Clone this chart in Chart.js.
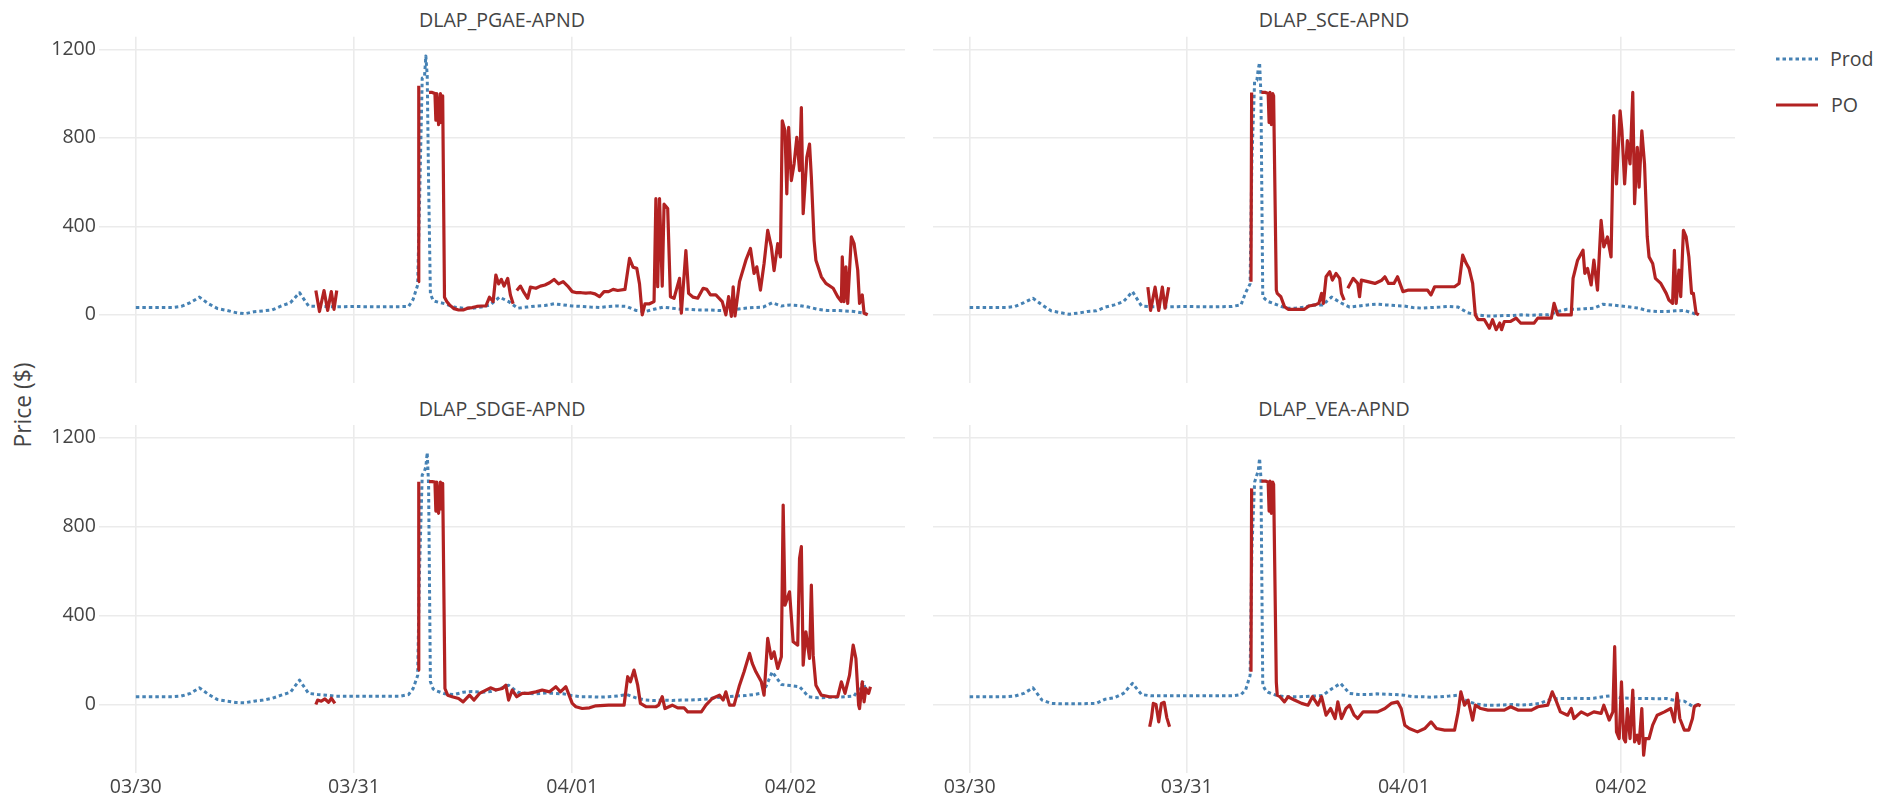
<!DOCTYPE html>
<html>
<head>
<meta charset="utf-8">
<script src="https://cdn.jsdelivr.net/npm/chart.js@4.4.1/dist/chart.umd.min.js"></script>
<style>
  body { margin: 0; width: 1883px; height: 799px; overflow: hidden; position: relative; background: #fff;
         font-family: 'Open Sans', sans-serif; color: #444; }
  canvas { position: absolute; }
  .label { position: absolute; font-size: 19.6px; line-height: 24px; white-space: nowrap; }
  .title { transform: translateX(-50%); }
  #yTitle { position: absolute; left: 22px; top: 405px; font-size: 22.8px; white-space: nowrap;
            transform: translate(-50%, -50%) rotate(-90deg); }
  #legend { position: absolute; left: 0; top: 0; }
</style>
</head>
<body>

<div class="label title" style="left:502px; top:8px">DLAP_PGAE-APND</div>
<div class="label title" style="left:1334px; top:8px">DLAP_SCE-APND</div>
<div class="label title" style="left:502px; top:397px">DLAP_SDGE-APND</div>
<div class="label title" style="left:1334px; top:397px">DLAP_VEA-APND</div>
<div id="yTitle">Price ($)</div>

<svg id="legend" width="1883" height="140">
  <line x1="1776" y1="59" x2="1818" y2="59" stroke="#4682b4" stroke-width="3" stroke-dasharray="3.5,3" />
  <line x1="1776" y1="105" x2="1818" y2="105" stroke="#b22222" stroke-width="3" />
</svg>
<div class="label" style="left:1830px; top:47px">Prod</div>
<div class="label" style="left:1831px; top:93px">PO</div>

<canvas id="pgae" width="910" height="360" style="left:0px; top:30px"></canvas>
<canvas id="sce" width="825" height="360" style="left:915px; top:30px"></canvas>
<canvas id="sdge" width="910" height="381" style="left:0px; top:418px"></canvas>
<canvas id="vea" width="825" height="381" style="left:915px; top:418px"></canvas>

<script>
// --- AXES ---
// x is hours since 03/30 00:00
const dayHours = [0, 24, 48, 72];
const dayLabels = ["03/30", "03/31", "04/01", "04/02"];
const priceTicks = [0, 400, 800, 1200];

// --- PROD (hourly, denser around the 03/31 spike) ---
const prodHours = [0,1,2,3,4,5,6,7,8,9,10,11,12,13,14,15,16,17,18,19,20,21,22,23,24,25,26,27,28,29,30,
  30.5,31,31.2,31.5,31.75,31.9,32.05,32.2,32.4,32.7,
  33,34,35,36,37,38,39,40,41,42,43,44,45,46,47,48,49,50,51,52,53,54,55,56,57,58,59,60,61,62,
  63,64,65,66,67,68,69,70,71,72,73,74,75,76,77,78,79,80,80.4];

const pgaeProd = [33,33,33,33,33,38,55,80,50,28,20,10,5,14,18,22,40,55,100,40,38,37,36,37,38,37,37,36,37,37,38,
  70,135,500,1070,1075,1170,1080,600,95,65,
  60,50,35,30,30,35,45,80,60,30,35,40,42,50,45,40,38,35,33,38,40,38,20,15,25,35,30,25,25,22,
  22,20,20,25,30,33,35,55,40,45,42,35,25,20,20,18,15,8,3];
const sceProd = [33,33,33,33,33,38,55,75,45,18,10,3,8,15,18,35,45,60,105,40,37,37,36,37,38,37,37,36,37,38,45,
  100,140,700,1057,1060,1110,1140,997,82,70,
  60,45,30,30,35,45,45,80,55,35,40,45,48,45,42,40,33,30,33,35,38,35,10,0,-5,-5,-3,-3,0,-2,
  0,0,15,25,25,28,30,48,45,40,35,30,18,15,15,18,20,7,0];
const sdgeProd = [35,35,35,35,35,38,50,75,45,22,15,9,8,15,20,28,42,55,110,50,45,42,37,37,37,37,37,37,37,37,45,
  72,130,600,1032,1050,1070,1133,987,102,70,
  62,48,45,55,58,55,58,70,87,55,50,48,52,50,48,40,35,35,33,35,38,45,30,20,18,20,18,20,20,22,
  25,32,35,38,40,45,52,147,90,85,80,35,30,32,33,35,38,100,55];
const veaProd = [35,35,35,35,35,38,50,75,20,5,3,3,3,4,5,24,30,50,95,45,39,39,39,39,39,39,39,39,39,39,45,
  65,130,700,1000,1032,1050,1107,1017,87,65,
  55,40,35,35,36,38,40,70,95,50,45,45,48,46,45,42,35,35,33,35,38,42,15,2,-3,-3,-2,0,-3,0,
  5,20,27,27,28,27,28,35,40,30,28,27,27,26,27,18,15,-10,0];

// --- PO (irregular hours, null = gap) ---
const pgaePoHours = [19.8,20.2,20.7,21.1,21.5,21.8,22.1,22.2,31.05,31.12,31.2,
  32.25,32.6,32.9,33.0,33.1,33.3,33.5,33.6,33.75,33.95,34.2,34.5,35.0,35.5,36.0,36.5,37.0,37.5,38.0,38.5,
  38.9,39.3,39.6,39.9,40.2,40.5,40.9,41.2,41.5,41.7,
  41.9,42.3,42.7,43.1,43.4,44.0,44.5,45.0,45.5,46.0,46.5,47.0,47.5,48.0,48.5,49.0,49.5,50.0,50.5,51.0,
  51.5,52.0,52.5,53.0,53.8,54.3,54.7,55.1,55.4,55.7,56.0,56.5,57.0,57.2,57.4,57.6,57.9,58.1,58.5,58.8,
  59.2,59.8,60.0,60.5,60.8,61.3,61.8,62.4,62.8,63.2,63.8,64.5,64.9,65.2,65.5,65.7,65.9,66.4,67.1,67.6,
  68.0,68.3,68.7,69.1,69.5,69.9,70.2,70.6,70.9,71.1,71.4,71.6,71.8,72.1,72.4,72.7,73.0,73.2,73.4,73.8,
  74.1,74.3,74.6,74.8,75.4,75.9,76.7,77.2,77.6,77.7,77.9,78.1,78.3,78.7,79.0,79.4,79.6,79.9,80.1,80.5];
const pgaePoPrice = [110,15,110,20,105,25,110,null,150,1035,null,
  1005,1005,1000,880,1000,860,1000,870,990,80,60,45,28,22,22,30,33,38,40,40,
  80,60,180,140,160,130,165,90,50,null,
  110,130,100,75,125,120,130,135,145,160,140,150,130,105,100,100,98,100,95,82,
  105,105,115,110,115,255,215,210,140,0,50,50,60,525,127,525,130,500,480,82,
  75,165,8,290,97,80,75,120,115,90,90,60,0,82,-7,127,-5,150,247,300,
  187,217,112,232,382,307,200,322,262,877,832,547,847,607,682,802,652,937,457,712,
  772,622,337,247,172,142,120,82,60,262,60,217,52,352,322,202,52,90,7,0];

const scePoHours = [19.7,20.0,20.5,20.9,21.3,21.6,22.0,22.1,31.1,31.17,31.25,
  32.25,32.7,33.0,33.1,33.2,33.35,33.5,33.6,33.9,34.0,34.4,34.8,35.2,36.0,37.0,37.5,38.2,38.6,38.9,39.1,
  39.4,39.8,40.1,40.5,40.9,41.1,41.4,41.6,
  41.8,42.4,42.9,43.1,43.3,44.0,44.8,45.5,45.9,46.3,46.9,47.3,47.9,48.5,49.5,50.6,51.0,51.4,52.5,53.6,
  54.1,54.5,54.9,55.2,55.6,55.9,56.2,56.9,57.45,57.8,58.2,58.6,58.8,59.1,59.8,60.4,60.9,62.4,62.8,64.3,
  64.6,65.0,65.7,66.5,66.7,67.2,67.8,68.0,68.3,68.7,69.0,69.4,69.8,70.1,70.5,70.9,71.2,71.5,71.9,72.1,
  72.4,72.7,73.0,73.3,73.5,73.8,74.0,74.3,74.6,74.9,75.1,75.5,75.8,76.4,77.0,77.3,77.7,77.9,78.1,78.4,
  78.6,78.9,79.2,79.5,79.8,80.0,80.3,80.6];
const scePoPrice = [125,20,125,20,125,30,125,null,150,1005,null,
  1005,1005,1000,870,1005,860,1000,990,112,97,82,37,25,25,25,40,45,52,97,52,
  172,195,157,187,165,97,67,null,
  120,165,142,82,157,150,142,155,172,142,142,172,105,112,112,112,90,127,127,127,
  142,270,232,210,142,0,-22,-22,-60,-22,-67,-37,-67,-30,-30,-15,-37,-37,-15,-15,
  52,0,0,0,165,247,292,187,210,135,247,112,427,307,352,262,900,592,922,832,
  592,787,682,1005,502,757,577,832,682,352,262,232,165,142,97,67,52,292,52,202,
  82,382,352,262,97,97,7,0];

const sdgePoHours = [19.8,20.0,20.4,20.8,21.2,21.5,21.9,22.0,31.05,31.12,31.2,
  32.25,32.6,32.9,33.0,33.1,33.3,33.5,33.6,33.75,34.0,34.3,34.8,35.5,36.0,36.7,37.2,37.8,39.0,39.6,40.3,
  40.7,41.0,41.4,41.9,42.5,43.2,44.0,44.7,45.5,46.2,46.7,47.3,48.0,48.4,49.1,49.9,50.6,52.0,53.7,54.1,
  54.4,54.8,55.2,55.5,56.1,57.2,57.5,57.9,58.2,59.0,59.6,60.3,60.7,62.2,62.7,63.4,64.2,64.6,64.9,65.3,
  65.8,66.4,66.9,67.5,67.8,68.2,68.8,69.1,69.5,69.9,70.2,70.6,71.0,71.2,71.4,71.9,72.3,72.8,73.0,73.2,
  73.4,73.7,74.1,74.3,74.5,74.8,75.4,76.3,77.2,77.6,78.0,78.5,78.9,79.2,79.5,79.6,79.9,80.1,80.3,80.6,80.8];
const sdgePoPrice = [0,20,15,25,10,28,5,null,155,1002,null,
  1002,1002,1000,870,1000,860,1000,880,995,72,42,35,27,12,42,20,50,75,65,72,
  87,20,65,35,50,50,57,65,57,80,57,80,5,-10,-18,-15,-6,-3,-3,125,
  102,155,87,5,-10,-10,-3,35,-18,-3,-15,-15,-33,-33,-3,27,42,20,57,-3,
  -3,87,147,230,185,147,102,42,297,207,237,162,215,897,447,507,282,267,657,710,
  177,327,207,537,222,87,42,35,35,102,50,132,267,207,-3,-18,102,12,72,50,80];

const veaPoHours = [19.9,20.1,20.3,20.6,20.9,21.2,21.5,21.8,22.1,22.2,31.1,31.17,31.25,
  32.25,32.7,33.0,33.1,33.2,33.35,33.5,33.6,33.9,34.0,34.3,34.8,35.2,35.9,36.7,37.4,37.9,38.5,38.9,
  39.4,39.9,40.4,40.7,41.1,41.6,42.0,42.5,42.9,43.5,45.1,45.9,46.6,47.3,47.7,48.1,48.6,49.5,50.3,51.0,
  51.6,52.5,53.6,54.0,54.3,54.7,55.1,55.6,55.9,56.5,57.3,59.1,59.8,60.6,62.1,62.8,63.9,64.4,64.8,65.3,
  66.1,66.5,66.8,67.6,68.3,69.0,69.8,70.1,70.7,71.1,71.3,71.5,71.8,72.05,72.3,72.5,72.7,73.0,73.3,73.5,
  73.8,74.0,74.3,74.5,74.7,75.1,75.5,76.0,76.8,77.5,77.9,78.2,78.5,79.0,79.5,79.9,80.1,80.5,80.8];
const veaPoPrice = [-100,-60,5,0,-78,5,10,-60,-100,null,147,972,null,
  1005,1005,1000,870,1005,860,1000,990,100,42,35,12,35,20,5,-3,35,-3,35,
  -48,-18,-63,12,-63,-18,-3,-48,-63,-33,-33,-18,5,12,-18,-93,-108,-123,-108,-78,
  -108,-115,-115,-33,57,-3,20,-70,-3,-18,-25,-25,-10,-25,-25,-10,-3,57,20,-33,
  -48,-18,-63,-33,-48,-33,-40,-3,-70,-33,260,-123,-153,102,-153,-168,-18,-153,65,-168,
  -138,-175,-18,-228,-153,-153,-93,-48,-33,-18,-78,50,-63,-115,-115,-63,-10,0,-6];

Chart.defaults.font.family = "'Open Sans', sans-serif";
Chart.defaults.font.size = 19.6;
Chart.defaults.color = '#444';

const gridColor = '#ebebeb';

// --- PANELS ---

function drawPanel(canvasId, prodPrice, poHours, poPrice, yWidth, padTop, showDays) {
    const ctxPanel = document.getElementById(canvasId).getContext("2d");
    return new Chart(ctxPanel, {
        type: 'line',
        data: {
            datasets: [
                {
                    label: 'Prod',
                    data: prodHours.map((h, i) => ({ x: h, y: prodPrice[i] })),
                    borderColor: '#4682b4',
                    borderWidth: 3,
                    borderDash: [3.5, 3],
                    order: 1
                },
                {
                    label: 'PO',
                    data: poHours.map((h, i) => ({ x: h, y: poPrice[i] })),
                    borderColor: '#b22222',
                    borderWidth: 3.2,
                    order: 0
                }
            ]
        },
        options: {
            responsive: false,
            animation: false,
            devicePixelRatio: 1,
            layout: { padding: { top: padTop, right: 5, left: 0, bottom: 0 } },
            elements: {
                point: { radius: 0 },
                line: { tension: 0, borderJoinStyle: 'round' }
            },
            plugins: {
                legend: { display: false },
                tooltip: { enabled: false }
            },
            scales: {
                x: {
                    type: 'linear',
                    min: -4.05,
                    max: 84.6,
                    afterBuildTicks: s => { s.ticks = dayHours.map(v => ({ value: v })); },
                    // keep the plot box fixed, labels must not push it around
                    afterFit: s => {
                        s.height = showDays ? 26 : 7;
                        s.paddingLeft = 0;
                        s.paddingRight = 0;
                    },
                    ticks: {
                        display: showDays,
                        padding: 3,
                        maxRotation: 0,
                        callback: v => dayLabels[dayHours.indexOf(v)]
                    },
                    grid: { color: gridColor, lineWidth: 1.6, drawTicks: false },
                    border: { display: false }
                },
                y: {
                    min: -308,
                    max: 1257,
                    afterBuildTicks: s => { s.ticks = priceTicks.map(v => ({ value: v })); },
                    afterFit: s => {
                        s.width = yWidth;
                        s.paddingTop = 0;
                        s.paddingBottom = 0;
                    },
                    ticks: { display: yWidth > 50, padding: 3, callback: v => String(v) },
                    grid: { color: gridColor, lineWidth: 1.6, drawTicks: false },
                    border: { display: false }
                }
            }
        }
    });
}

drawPanel("pgae", pgaeProd, pgaePoHours, pgaePoPrice, 99, 6.7, false);
drawPanel("sce", sceProd, scePoHours, scePoPrice, 18, 6.7, false);
drawPanel("sdge", sdgeProd, sdgePoHours, sdgePoPrice, 99, 7, true);
drawPanel("vea", veaProd, veaPoHours, veaPoPrice, 18, 7, true);
</script>
</body>
</html>
